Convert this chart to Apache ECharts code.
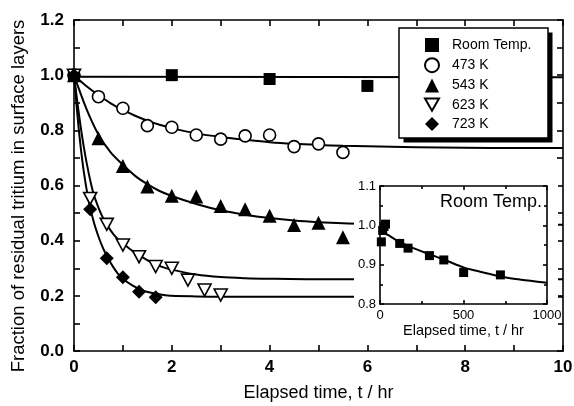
<!DOCTYPE html>
<html>
<head>
<meta charset="utf-8">
<script src="https://cdn.jsdelivr.net/npm/echarts@6/dist/echarts.min.js"></script>
<style>
  html, body { margin: 0; padding: 0; background: #fff; }
  #chart { width: 574px; height: 406px; }
</style>
</head>
<body>
<div id="chart"></div>
<script>
// measured points, t in hr
const roomT = [0, 2, 4, 6];
const roomY = [1.0, 1.0, 0.986, 0.961];
const k473T = [0, 0.5, 1, 1.5, 2, 2.5, 3, 3.5, 4, 4.5, 5, 5.5];
const k473Y = [1.0, 0.922, 0.88, 0.817, 0.811, 0.783, 0.768, 0.78, 0.783, 0.741, 0.751, 0.72];
const k543T = [0, 0.5, 1, 1.5, 2, 2.5, 3, 3.5, 4, 4.5, 5, 5.5];
const k543Y = [1.0, 0.771, 0.671, 0.596, 0.563, 0.56, 0.526, 0.514, 0.49, 0.457, 0.465, 0.412];
const k623T = [0, 0.33, 0.67, 1, 1.33, 1.67, 2, 2.33, 2.67, 3];
const k623Y = [1.0, 0.553, 0.459, 0.384, 0.342, 0.306, 0.3, 0.257, 0.221, 0.203];
const k723T = [0, 0.33, 0.67, 1, 1.33, 1.67];
const k723Y = [1.0, 0.514, 0.336, 0.267, 0.215, 0.195];

// fitted curves
const fitRoomT = [0, 10];
const fitRoomY = [0.994, 0.992];
const fit473T = [0, 0.25, 0.5, 0.75, 1, 1.25, 1.5, 1.75, 2, 2.5, 3, 3.5, 4, 4.5, 5, 5.5, 6, 7, 8, 9, 10];
const fit473Y = [1.0, 0.961, 0.928, 0.898, 0.874, 0.853, 0.835, 0.82, 0.808, 0.789, 0.776, 0.766, 0.757, 0.751, 0.747, 0.744, 0.742, 0.739, 0.737, 0.736, 0.736];
const fit543T = [0, 0.25, 0.5, 0.75, 1, 1.25, 1.5, 1.75, 2, 2.5, 3, 3.5, 4, 4.5, 5, 5.5, 6, 7, 8, 10];
const fit543Y = [1.0, 0.88, 0.785, 0.72, 0.675, 0.635, 0.605, 0.58, 0.562, 0.533, 0.51, 0.494, 0.482, 0.473, 0.467, 0.463, 0.461, 0.459, 0.458, 0.458];
const fit623T = [0, 0.1, 0.2, 0.3, 0.4, 0.5, 0.6, 0.7, 0.8, 0.9, 1, 1.2, 1.4, 1.6, 1.8, 2, 2.5, 3, 3.5, 4, 5, 10];
const fit623Y = [1.0, 0.86, 0.74, 0.645, 0.57, 0.52, 0.48, 0.45, 0.425, 0.405, 0.39, 0.362, 0.34, 0.32, 0.305, 0.295, 0.277, 0.268, 0.264, 0.262, 0.26, 0.26];
const fit723T = [0, 0.1, 0.2, 0.3, 0.4, 0.5, 0.6, 0.7, 0.8, 0.9, 1, 1.2, 1.4, 1.6, 1.8, 2, 2.5, 3, 10];
const fit723Y = [1.0, 0.8, 0.65, 0.545, 0.47, 0.415, 0.37, 0.335, 0.305, 0.28, 0.262, 0.237, 0.22, 0.21, 0.204, 0.2, 0.198, 0.197, 0.197];

// inset: room temperature, long times
const insetT = [8, 16, 24, 33, 118, 168, 296, 382, 501, 721];
const insetY = [0.958, 0.987, 0.997, 1.003, 0.954, 0.942, 0.923, 0.912, 0.88, 0.874];
const insetFitT = [0, 50, 100, 200, 300, 400, 500, 600, 700, 800, 900, 1000];
const insetFitY = [0.985, 0.975, 0.962, 0.942, 0.926, 0.91, 0.893, 0.882, 0.872, 0.864, 0.859, 0.854];

const mainXTicks = [0, 10, 2];      // min, max, interval
const mainYTicks = [0, 1.2, 0.2];
const insetXTicks = [0, 1000, 500];
const insetYTicks = [0.8, 1.1, 0.1];

const FONT = '"Liberation Sans", Arial, Helvetica, sans-serif';
const DOWN_TRI = 'path://M0,0L10,0L5,8.66Z';

const zip = (xs, ys) => xs.map((x, i) => [x, ys[i]]);

const chart = echarts.init(document.getElementById('chart'), null, { renderer: 'canvas' });

// 坐标轴通用样式
const lineSt = { color: '#000', width: 1.6 };
function axis(ticks, extra) {
  return Object.assign({
    type: 'value',
    min: ticks[0],
    max: ticks[1],
    interval: ticks[2],
    axisLine: { show: true, onZero: false, lineStyle: lineSt },
    axisTick: { show: true, inside: true, length: 6, lineStyle: lineSt },
    minorTick: { show: true, splitNumber: 2, length: 6, lineStyle: lineSt },
    splitLine: { show: false },
    axisLabel: { show: false },
  }, extra);
}
const smallTick = {
  z: 6,
  axisTick: { show: true, inside: true, length: 4, lineStyle: lineSt },
  minorTick: { show: true, splitNumber: 2, length: 3, lineStyle: lineSt },
};

const bigLabel = { show: true, color: '#000', fontSize: 17, fontWeight: 'bold', fontFamily: FONT };
const smallLabel = { show: true, color: '#000', fontSize: 13, fontFamily: FONT };

const xAxis = [
  axis(mainXTicks, {
    gridIndex: 0, position: 'bottom',
    axisLabel: Object.assign({ margin: 8, formatter: (v) => String(v) }, bigLabel),
    name: 'Elapsed time, t / hr', nameLocation: 'middle', nameGap: 33,
    nameTextStyle: { color: '#000', fontSize: 18, fontFamily: FONT },
  }),
  axis(mainXTicks, { gridIndex: 0, position: 'top' }),
  axis(insetXTicks, Object.assign({}, smallTick, {
    gridIndex: 1, position: 'bottom',
    axisLabel: Object.assign({ margin: 5, formatter: (v) => String(v) }, smallLabel),
    name: 'Elapsed time, t / hr', nameLocation: 'middle', nameGap: 19,
    nameTextStyle: { color: '#000', fontSize: 14.5, fontFamily: FONT },
  })),
  axis(insetXTicks, Object.assign({}, smallTick, { gridIndex: 1, position: 'top' })),
];

const yAxis = [
  axis(mainYTicks, {
    gridIndex: 0, position: 'left',
    axisLabel: Object.assign({ margin: 10, formatter: (v) => v.toFixed(1) }, bigLabel),
  }),
  axis(mainYTicks, { gridIndex: 0, position: 'right' }),
  axis(insetYTicks, Object.assign({}, smallTick, {
    gridIndex: 1, position: 'left',
    axisLabel: Object.assign({ margin: 4, formatter: (v) => v.toFixed(1) }, smallLabel),
  })),
  axis(insetYTicks, Object.assign({}, smallTick, { gridIndex: 1, position: 'right' })),
];

const filled = { color: '#000', opacity: 1 };
const hollow = { color: '#fff', borderColor: '#000', borderWidth: 1.6, opacity: 1 };

function fit(xs, ys, xi, yi, z) {
  return {
    type: 'line', xAxisIndex: xi, yAxisIndex: yi, z: z,
    data: zip(xs, ys), smooth: 0.3,
    showSymbol: false, symbol: 'none', silent: true,
    lineStyle: { color: '#000', width: 2, opacity: 1 },
  };
}
function pts(name, xs, ys, symbol, size, style, xi, yi, z) {
  return {
    name: name, type: 'scatter', xAxisIndex: xi, yAxisIndex: yi, z: z,
    data: zip(xs, ys), symbol: symbol, symbolSize: size, itemStyle: style,
  };
}

const option = {
  animation: false,
  backgroundColor: '#fff',
  textStyle: { fontFamily: FONT, color: '#000' },
  grid: [
    { left: 74, top: 20, right: 11, bottom: 55, outerBoundsMode: 'none' },
    { left: 380, top: 186, width: 167, height: 118, outerBoundsMode: 'none' },
  ],
  xAxis: xAxis,
  yAxis: yAxis,
  legend: {
    left: 399, top: 28, orient: 'vertical', z: 4,
    data: ['Room Temp.', '473 K', '543 K', '623 K', '723 K'],
    itemWidth: 14, itemHeight: 14, itemGap: 5.2,
    padding: [10, 15, 10, 25],
    selectedMode: false,
    textStyle: { color: '#000', fontSize: 14, fontFamily: FONT, padding: [0, 0, 0, 8] },
  },
  graphic: [
    // y 轴标题
    { type: 'text', z: 9, silent: true, x: 19, y: 196, rotation: Math.PI / 2,
      style: { text: 'Fraction of residual tritium in surface layers', fill: '#000', fontSize: 18.5, fontFamily: FONT, align: 'center', verticalAlign: 'middle' } },
    // 图例框与阴影
    { type: 'rect', z: 3, silent: true, shape: { x: 403.5, y: 32.5, width: 149, height: 110 }, style: { fill: '#000' } },
    { type: 'rect', z: 3, silent: true, shape: { x: 399, y: 28, width: 149, height: 110 }, style: { fill: '#fff', stroke: '#000', lineWidth: 1.5 } },
    // 子图白底，遮住主图曲线
    { type: 'rect', z: 5, silent: true, shape: { x: 354, y: 170, width: 204, height: 172 }, style: { fill: '#fff' } },
    { type: 'text', z: 9, silent: true, x: 542, y: 202,
      style: { text: 'Room Temp.', fill: '#000', fontSize: 18, fontFamily: FONT, align: 'right', verticalAlign: 'middle' } },
  ],
  series: [
    fit(fitRoomT, fitRoomY, 0, 0, 1),
    fit(fit473T, fit473Y, 0, 0, 1),
    fit(fit543T, fit543Y, 0, 0, 1),
    fit(fit623T, fit623Y, 0, 0, 1),
    fit(fit723T, fit723Y, 0, 0, 1),
    pts('Room Temp.', roomT, roomY, 'rect', 12, filled, 0, 0, 2),
    pts('473 K', k473T, k473Y, 'circle', 12, hollow, 0, 0, 2),
    pts('543 K', k543T, k543Y, 'triangle', 14, filled, 0, 0, 2),
    pts('623 K', k623T, k623Y, DOWN_TRI, [13, 12], hollow, 0, 0, 2),
    pts('723 K', k723T, k723Y, 'diamond', 14, filled, 0, 0, 2),
    fit(insetFitT, insetFitY, 2, 2, 7),
    pts('inset', insetT, insetY, 'rect', 9, filled, 2, 2, 8),
  ],
};

chart.setOption(option);
window.addEventListener('resize', chart.resize);
</script>
</body>
</html>
